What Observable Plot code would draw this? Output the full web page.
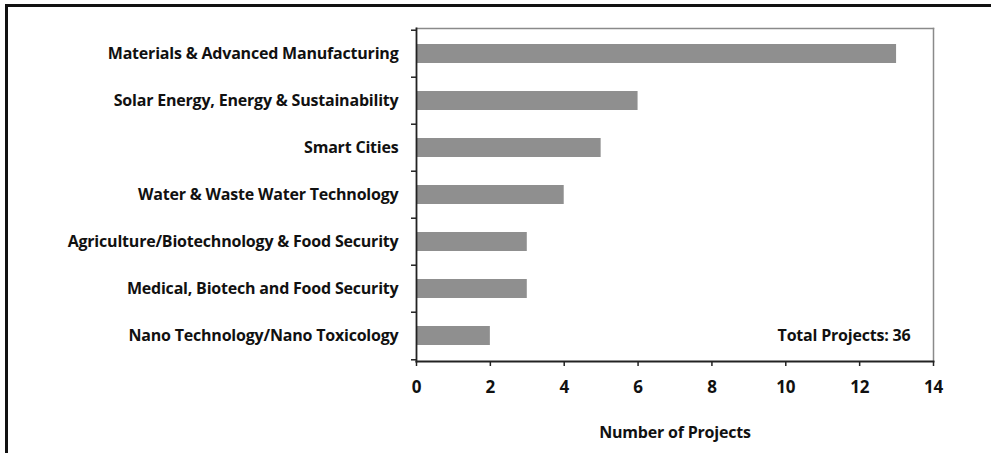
<!DOCTYPE html>
<html>
<head>
<meta charset="utf-8">
<script src="https://cdn.jsdelivr.net/npm/d3@7"></script>
<script src="https://cdn.jsdelivr.net/npm/@observablehq/plot@0.6"></script>
<style>
  html, body { margin: 0; padding: 0; background: #fff; }
  #wrap { position: relative; width: 991px; height: 453px; overflow: hidden; }
  #edge {
    position: absolute; top: 4px; left: 5px; right: -10px; bottom: -10px;
    border-top: 3px solid #111; border-left: 3px solid #111;
    pointer-events: none;
  }
  svg text { font-family: "Open Sans", Lato, sans-serif; font-weight: 700; fill: #111; letter-spacing: -0.2px; }
</style>
</head>
<body>
<div id="wrap"><div id="edge"></div></div>
<script>
// Research projects by thematic area
const areas = [
  "Materials & Advanced Manufacturing",
  "Solar Energy, Energy & Sustainability",
  "Smart Cities",
  "Water & Waste Water Technology",
  "Agriculture/Biotechnology & Food Security",
  "Medical, Biotech and Food Security",
  "Nano Technology/Nano Toxicology"
];
const projects = [13, 6, 5, 4, 3, 3, 2];
const xTicks = [0, 2, 4, 6, 8, 10, 12, 14];

const data = areas.map((area, i) => ({area, count: projects[i]}));
const total = d3.sum(projects);
const lastArea = areas[areas.length - 1];

const W = 991, H = 453;
const M = {top: 28, right: 58, bottom: 92, left: 416};
const step = (H - M.top - M.bottom) / areas.length;

const chart = Plot.plot({
  width: W,
  height: H,
  marginTop: M.top,
  marginRight: M.right,
  marginBottom: M.bottom,
  marginLeft: M.left,
  style: {fontFamily: "'Open Sans', Lato, sans-serif", background: "transparent"},
  x: {domain: [0, 14], ticks: xTicks},
  y: {domain: areas, paddingInner: 0.6, paddingOuter: 0.3},
  marks: [
    Plot.frame({anchor: "top", stroke: "#8a8a8a", strokeWidth: 1.5}),
    Plot.frame({anchor: "right", stroke: "#8a8a8a", strokeWidth: 1.5}),
    Plot.barX(data, {y: "area", x: "count", fill: "#8f8f8f"}),
    // category labels
    Plot.axisY({tickSize: 0, tickPadding: 18, fontSize: 16, label: null}),
    // boundary ticks between categories
    Plot.axisY({text: null, tickSize: 5, dy: -step / 2, stroke: "#222", strokeWidth: 1.5, label: null}),
    Plot.axisY({ticks: [lastArea], text: null, tickSize: 5, dy: step / 2, stroke: "#222", strokeWidth: 1.5, label: null}),
    Plot.axisX({
      ticks: xTicks, tickSize: 5, tickPadding: 14, fontSize: 17,
      stroke: "#222", strokeWidth: 1.5,
      label: "Number of Projects", labelAnchor: "center", labelArrow: "none", labelOffset: 76
    }),
    Plot.frame({anchor: "left", stroke: "#222", strokeWidth: 1.8}),
    Plot.frame({anchor: "bottom", stroke: "#222", strokeWidth: 1.8}),
    Plot.text([{label: `Total Projects: ${total}`, area: lastArea}], {
      x: () => 14, y: "area", text: "label", dx: -23, textAnchor: "end",
      fontSize: 16, fill: "#111"
    })
  ]
});

chart.querySelectorAll("[aria-label='x-axis label'] text").forEach(t => t.setAttribute("font-size", "16"));
document.getElementById("wrap").prepend(chart);
</script>
</body>
</html>
